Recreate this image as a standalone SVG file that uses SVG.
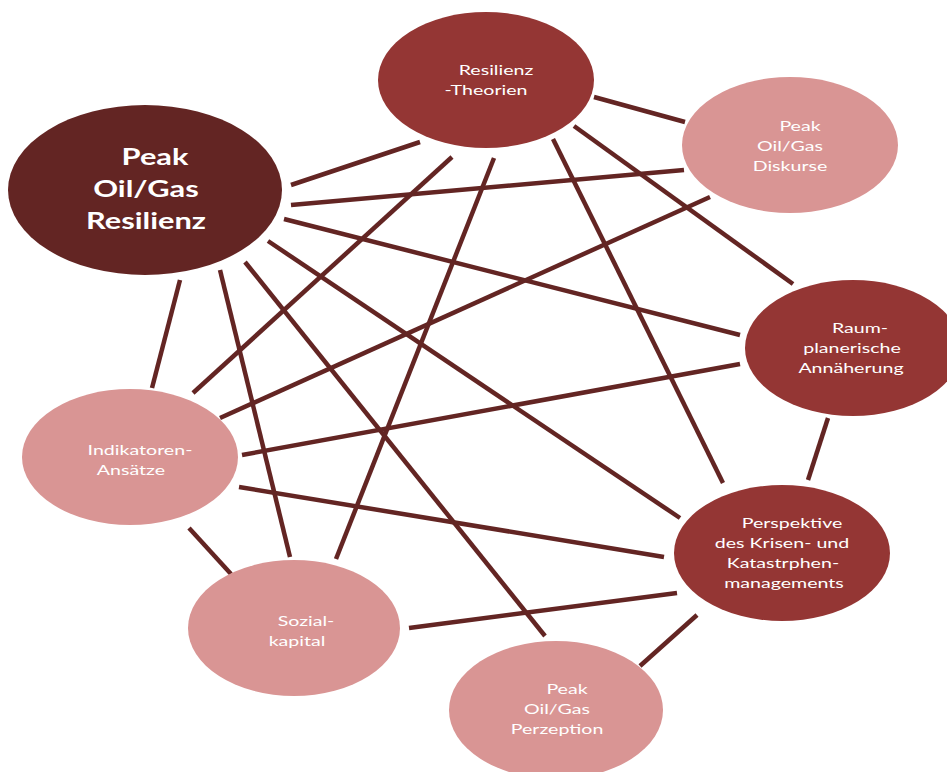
<svg xmlns="http://www.w3.org/2000/svg" width="947" height="772" viewBox="0 0 947 772">
<style>
.dark{fill:#632523}
.mid{fill:#943634}
.light{fill:#D99594}
.lbl{font-family:Lato,"Liberation Sans",sans-serif;font-size:14px;fill:#FFFFFF;text-anchor:middle}
.big{font-family:Lato,"Liberation Sans",sans-serif;font-size:22px;font-weight:bold;fill:#FFFFFF;text-anchor:middle}
#edges line{stroke:#632523;stroke-width:4.5;stroke-linecap:butt}
</style>
<rect width="947" height="772" fill="#FFFFFF"/>
<g id="edges">
<line x1="291" y1="185" x2="420" y2="142"/>
<line x1="291" y1="205" x2="684" y2="170"/>
<line x1="284" y1="219" x2="740" y2="335"/>
<line x1="268" y1="241" x2="680" y2="518"/>
<line x1="245" y1="262" x2="545" y2="636"/>
<line x1="220" y1="270" x2="290" y2="557"/>
<line x1="180" y1="280" x2="152" y2="388"/>
<line x1="594" y1="97" x2="685" y2="122"/>
<line x1="574" y1="126" x2="793" y2="284"/>
<line x1="553" y1="139" x2="723" y2="483"/>
<line x1="494" y1="158" x2="336" y2="559"/>
<line x1="452" y1="157" x2="193" y2="393"/>
<line x1="710" y1="197" x2="220" y2="418"/>
<line x1="740" y1="364" x2="242" y2="455"/>
<line x1="828" y1="418" x2="808" y2="480"/>
<line x1="239" y1="487" x2="664" y2="557"/>
<line x1="189" y1="528" x2="231" y2="574"/>
<line x1="409" y1="628" x2="677" y2="593"/>
<line x1="697" y1="615" x2="640" y2="666"/>
</g>
<g id="n-pores">
<ellipse class="dark" cx="145" cy="190" rx="137" ry="85"/>
<text class="big" transform="translate(155,165) scale(1.4,1)">Peak</text>
<text class="big" transform="translate(146,197) scale(1.4,1)">Oil/Gas</text>
<text class="big" transform="translate(146,229) scale(1.4,1)">Resilienz</text>
</g>
<g id="n-theorien">
<ellipse class="mid" cx="486" cy="80" rx="108" ry="68"/>
<text class="lbl" transform="translate(496,75) scale(1.4,1)">Resilienz</text>
<text class="lbl" transform="translate(486,95) scale(1.4,1)">-Theorien</text>
</g>
<g id="n-diskurse">
<ellipse class="light" cx="790" cy="145" rx="108" ry="68"/>
<text class="lbl" transform="translate(800,131) scale(1.4,1)">Peak</text>
<text class="lbl" transform="translate(790,151) scale(1.4,1)">Oil/Gas</text>
<text class="lbl" transform="translate(790,171) scale(1.4,1)">Diskurse</text>
</g>
<g id="n-raum">
<ellipse class="mid" cx="853" cy="348" rx="108" ry="68"/>
<text class="lbl" transform="translate(860,333) scale(1.4,1)">Raum-</text>
<text class="lbl" transform="translate(852,353) scale(1.4,1)">planerische</text>
<text class="lbl" transform="translate(851,373) scale(1.4,1)">Annäherung</text>
</g>
<g id="n-indikatoren">
<ellipse class="light" cx="130" cy="457" rx="108" ry="68"/>
<text class="lbl" transform="translate(140,455) scale(1.4,1)">Indikatoren-</text>
<text class="lbl" transform="translate(131,475) scale(1.4,1)">Ansätze</text>
</g>
<g id="n-perspektive">
<ellipse class="mid" cx="782" cy="553" rx="108" ry="68"/>
<text class="lbl" transform="translate(792,528) scale(1.4,1)">Perspektive</text>
<text class="lbl" transform="translate(782,548) scale(1.4,1)">des Krisen- und</text>
<text class="lbl" transform="translate(783,568) scale(1.4,1)">Katastrphen-</text>
<text class="lbl" transform="translate(784,588) scale(1.4,1)">managements</text>
</g>
<g id="n-sozial">
<ellipse class="light" cx="294" cy="628" rx="106" ry="68"/>
<text class="lbl" transform="translate(306,626) scale(1.4,1)">Sozial-</text>
<text class="lbl" transform="translate(297,646) scale(1.4,1)">kapital</text>
</g>
<g id="n-perzeption">
<ellipse class="light" cx="556" cy="710" rx="107" ry="69"/>
<text class="lbl" transform="translate(567,694) scale(1.4,1)">Peak</text>
<text class="lbl" transform="translate(557,714) scale(1.4,1)">Oil/Gas</text>
<text class="lbl" transform="translate(557,734) scale(1.4,1)">Perzeption</text>
</g>
</svg>
